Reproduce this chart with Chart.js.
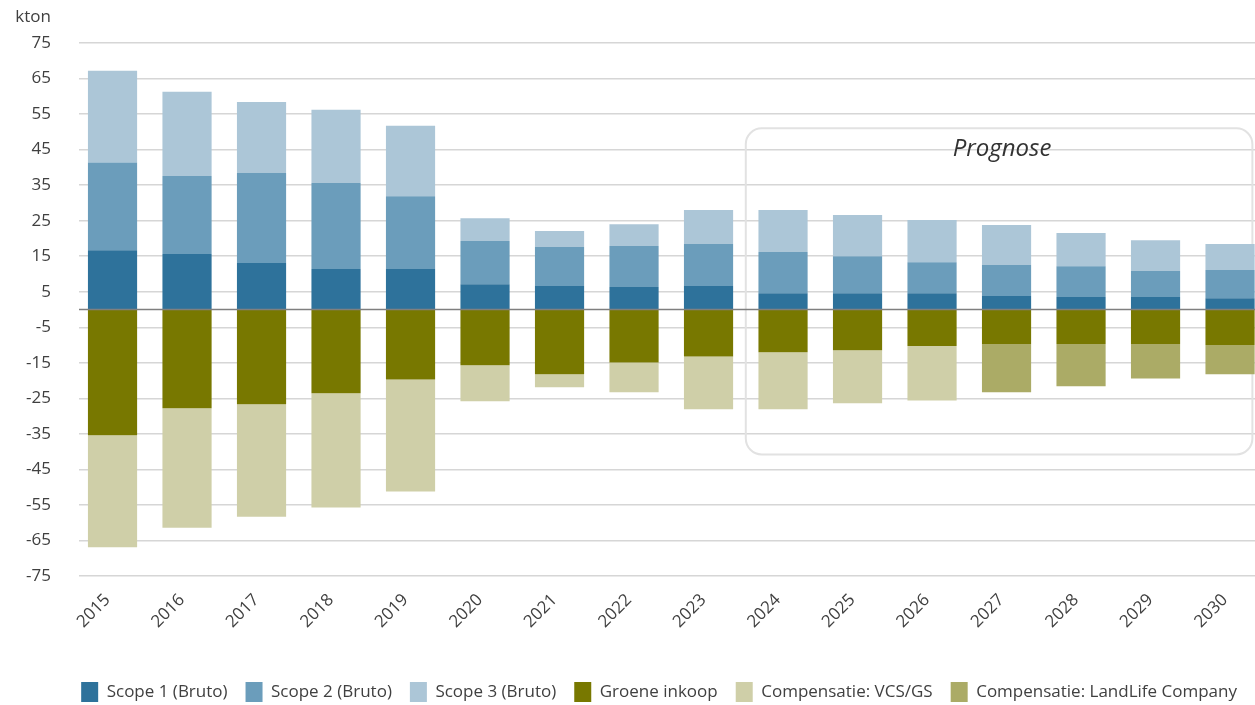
<!DOCTYPE html>
<html>
<head>
<meta charset="utf-8">
<script src="https://cdn.jsdelivr.net/npm/chart.js@4.4.1/dist/chart.umd.min.js"></script>
<style>
  html, body { margin: 0; padding: 0; background: #ffffff; overflow: hidden; }
  #wrap { position: relative; width: 1255px; height: 705px; }
  canvas { display: block; }
</style>
</head>
<body>
<div id="wrap"><canvas id="c" width="1255" height="705"></canvas></div>
<script>
// ---- data (kton) ----
const years = ['2015','2016','2017','2018','2019','2020','2021','2022','2023','2024','2025','2026','2027','2028','2029','2030'];
const scope1 = [16.7, 15.6, 13.1, 11.4, 11.4, 7.1, 6.6, 6.3, 6.6, 4.6, 4.6, 4.6, 3.8, 3.5, 3.5, 3.2];
const scope2 = [24.7, 22.0, 25.4, 24.2, 20.5, 12.2, 11.0, 11.6, 11.8, 11.6, 10.4, 8.7, 8.7, 8.7, 7.3, 7.9];
const scope3 = [25.8, 23.7, 19.9, 20.6, 19.8, 6.4, 4.5, 6.1, 9.6, 11.8, 11.6, 11.9, 11.3, 9.3, 8.7, 7.3];
const groeneInkoop = [-35.4, -27.8, -26.7, -23.6, -19.7, -15.7, -18.2, -14.9, -13.2, -12.0, -11.5, -10.3, -9.7, -9.7, -9.7, -10.0];
const compVcsGs = [-31.5, -33.6, -31.6, -32.1, -31.5, -10.1, -3.7, -8.4, -14.9, -16.1, -14.9, -15.3, null, null, null, null];
const compLandLife = [null, null, null, null, null, null, null, null, null, null, null, null, -13.6, -11.9, -9.7, -8.2];
const yTicks = [-75, -65, -55, -45, -35, -25, -15, -5, 5, 15, 25, 35, 45, 55, 65, 75];
const unitLabel = 'kton';
const prognoseLabel = 'Prognose';
// forecast frame in data units
const prognoseFrom = 2023.5, prognoseTo = 2030.3, prognoseTop = 51, prognoseBottom = -40.8;

Chart.defaults.font.family = "'Open Sans', 'Noto Sans', sans-serif";
Chart.defaults.color = '#404040';

const textColor = '#404040';

const annot = {
  id: 'annot',
  beforeDatasetsDraw(chart) {
    const {ctx, scales: {x, y}} = chart;
    const x1 = x.getPixelForValue(prognoseFrom), x2 = x.getPixelForValue(prognoseTo);
    const y1 = y.getPixelForValue(prognoseTop), y2 = y.getPixelForValue(prognoseBottom);
    ctx.save();
    ctx.strokeStyle = '#e2e2e2';
    ctx.lineWidth = 2;
    ctx.beginPath();
    ctx.roundRect(x1, y1, x2 - x1, y2 - y1, 16);
    ctx.stroke();
    ctx.restore();
  },
  afterDatasetsDraw(chart) {
    const {ctx, chartArea, scales: {x, y}} = chart;
    const y0 = y.getPixelForValue(0);
    ctx.save();
    ctx.strokeStyle = '#7f7f7f';
    ctx.lineWidth = 1.5;
    ctx.beginPath();
    ctx.moveTo(chartArea.left, y0);
    ctx.lineTo(chartArea.right, y0);
    ctx.stroke();
    // texts
    ctx.fillStyle = textColor;
    ctx.font = "17px 'Open Sans', sans-serif";
    ctx.textAlign = 'right';
    ctx.textBaseline = 'middle';
    ctx.fillText(unitLabel, chartArea.left - 28, chartArea.top - 26);
    const x1 = x.getPixelForValue(prognoseFrom), x2 = x.getPixelForValue(prognoseTo);
    const y1 = y.getPixelForValue(prognoseTop);
    ctx.font = "italic 24px 'Open Sans', sans-serif";
    ctx.textAlign = 'center';
    ctx.fillStyle = '#333333';
    ctx.fillText(prognoseLabel, (x1 + x2) / 2 + 3, y1 + 21);
    ctx.restore();
  }
};

const mk = (label, data, color) => ({
  label, data: years.map((yr, i) => ({x: +yr, y: data[i]})), backgroundColor: color, borderWidth: 0,
  barPercentage: 0.66, categoryPercentage: 1.0
});

new Chart(document.getElementById('c'), {
  type: 'bar',
  data: {
    datasets: [
      mk('Scope 1 (Bruto)', scope1, '#2E729B'),
      mk('Scope 2 (Bruto)', scope2, '#6B9DBB'),
      mk('Scope 3 (Bruto)', scope3, '#ACC6D7'),
      mk('Groene inkoop', groeneInkoop, '#787800'),
      mk('Compensatie: VCS/GS', compVcsGs, '#CFCFA8'),
      mk('Compensatie: LandLife Company', compLandLife, '#ABAB66')
    ]
  },
  options: {
    responsive: false,
    animation: false,
    layout: { padding: { top: 43, left: 0, right: 0, bottom: -7 } },
    plugins: {
      tooltip: { enabled: false },
      title: { display: false },
      legend: {
        position: 'bottom',
        align: 'end',
        labels: {
          boxWidth: 17, boxHeight: 20, padding: 18,
          font: { size: 17 }, color: textColor
        }
      }
    },
    scales: {
      x: {
        type: 'linear',
        stacked: true,
        offset: false,
        min: 2014.55,
        max: 2030.335,
        grid: { display: false },
        border: { display: false },
        afterBuildTicks(scale) { scale.ticks = years.map(v => ({ value: +v })); },
        afterFit(scale) { scale.height = 88; },
        ticks: {
          font: { size: 17 }, color: textColor,
          maxRotation: 45, minRotation: 45, autoSkip: false, padding: 6, labelOffset: -5,
          callback: (v) => String(v)
        }
      },
      y: {
        stacked: true,
        min: -75, max: 75,
        afterBuildTicks(scale) { scale.ticks = yTicks.map(v => ({ value: v })); },
        afterFit(scale) { scale.width = 79; },
        grid: { color: '#d6d6d6', lineWidth: 1.5, drawTicks: false, tickLength: 0 },
        border: { display: false },
        ticks: { font: { size: 17 }, color: textColor, padding: 28 }
      }
    }
  },
  plugins: [annot]
});
</script>
</body>
</html>
